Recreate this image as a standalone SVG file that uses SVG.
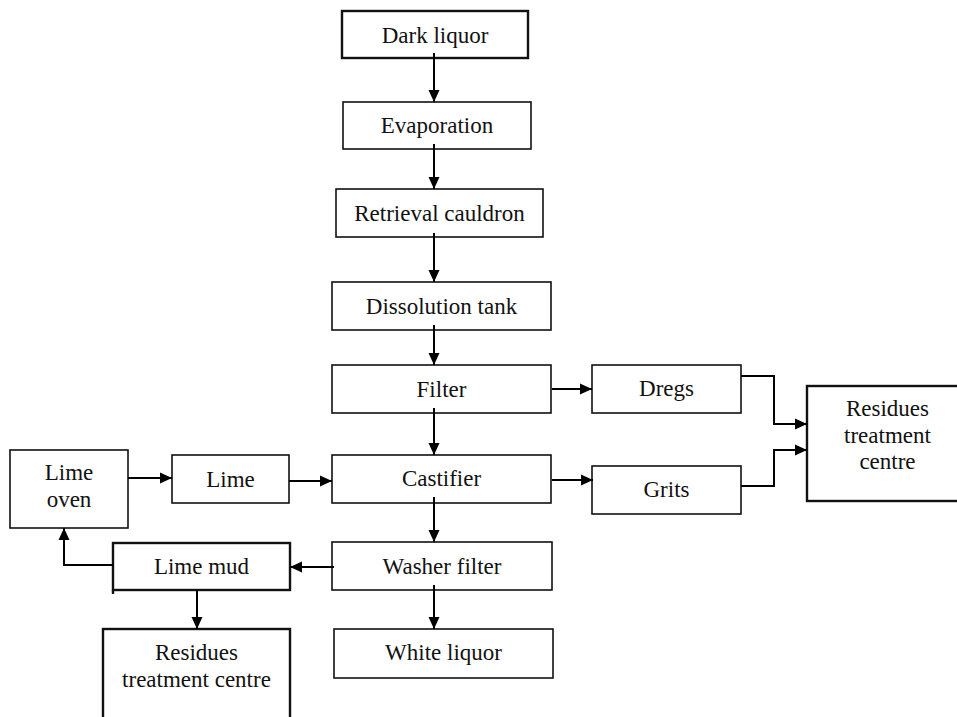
<svg xmlns="http://www.w3.org/2000/svg" width="957" height="717" viewBox="0 0 957 717">
<style>
.box{fill:#fff;stroke:#111;stroke-width:1.6}
.thick{stroke-width:2.4}
.lbl{font-family:"Liberation Serif","Times New Roman",serif;font-size:23px;fill:#111;text-anchor:middle}
.con{fill:none;stroke:#000;stroke-width:2}
</style>
<defs>
<marker id="ah" markerUnits="userSpaceOnUse" markerWidth="12" markerHeight="12" viewBox="0 0 12 12" refX="12" refY="6" orient="auto">
<path d="M0,0.5 L12,6 L0,11.5 z" fill="#000"/>
</marker>
</defs>
<rect width="957" height="717" fill="#fff"/>

<g id="dark-liquor"><rect class="box thick" x="342" y="11" width="186" height="47"/><text class="lbl" x="435" y="43">Dark liquor</text></g>
<g id="evaporation"><rect class="box" x="343" y="102" width="188" height="47"/><text class="lbl" x="437" y="133">Evaporation</text></g>
<g id="retrieval-cauldron"><rect class="box" x="336" y="189" width="207" height="48"/><text class="lbl" x="439.5" y="221">Retrieval cauldron</text></g>
<g id="dissolution-tank"><rect class="box" x="332" y="282" width="219" height="48"/><text class="lbl" x="441.5" y="314">Dissolution tank</text></g>
<g id="filter"><rect class="box" x="332" y="365" width="219" height="48"/><text class="lbl" x="441.5" y="397">Filter</text></g>
<g id="castifier"><rect class="box" x="332" y="455" width="219" height="48"/><text class="lbl" x="441.5" y="486">Castifier</text></g>
<g id="washer-filter"><rect class="box" x="332" y="542" width="220" height="48"/><text class="lbl" x="442" y="574">Washer filter</text></g>
<g id="white-liquor"><rect class="box" x="334" y="629" width="219" height="49"/><text class="lbl" x="443.5" y="660">White liquor</text></g>
<g id="dregs"><rect class="box" x="592" y="365" width="149" height="48"/><text class="lbl" x="666.5" y="396">Dregs</text></g>
<g id="grits"><rect class="box" x="592" y="466" width="149" height="48"/><text class="lbl" x="666.5" y="497">Grits</text></g>
<g id="residues-right"><rect class="box thick" x="807" y="386" width="160" height="115"/><text class="lbl" x="887.5" y="416">Residues</text><text class="lbl" x="887.5" y="443">treatment</text><text class="lbl" x="887.5" y="469">centre</text></g>
<g id="lime-oven"><rect class="box" x="10" y="450" width="118" height="78"/><text class="lbl" x="69" y="480">Lime</text><text class="lbl" x="69" y="507">oven</text></g>
<g id="lime"><rect class="box" x="172" y="455" width="117" height="48"/><text class="lbl" x="230.5" y="487">Lime</text></g>
<g id="lime-mud"><rect class="box thick" x="113" y="543" width="177" height="47"/><line x1="113" y1="590" x2="113" y2="594" stroke="#111" stroke-width="2.4"/><text class="lbl" x="201.5" y="574">Lime mud</text></g>
<g id="residues-left"><rect class="box thick" x="103" y="629" width="187" height="100"/><text class="lbl" x="196.5" y="660">Residues</text><text class="lbl" x="196.5" y="687">treatment centre</text></g>

<g id="connectors">
<path class="con" d="M434,53 V102" marker-end="url(#ah)"/>
<path class="con" d="M434,144 V189" marker-end="url(#ah)"/>
<path class="con" d="M434,233 V282" marker-end="url(#ah)"/>
<path class="con" d="M434,325 V365" marker-end="url(#ah)"/>
<path class="con" d="M434,408 V455" marker-end="url(#ah)"/>
<path class="con" d="M434,497 V542" marker-end="url(#ah)"/>
<path class="con" d="M434,585 V629" marker-end="url(#ah)"/>
<path class="con" d="M552,389 H592" marker-end="url(#ah)"/>
<path class="con" d="M552,480 H593" marker-end="url(#ah)"/>
<path class="con" d="M741,376 H774 V424 H807" marker-end="url(#ah)"/>
<path class="con" d="M741,486 H774 V450 H807" marker-end="url(#ah)"/>
<path class="con" d="M128,478 H172" marker-end="url(#ah)"/>
<path class="con" d="M289,481 H332" marker-end="url(#ah)"/>
<path class="con" d="M334,567 H290" marker-end="url(#ah)"/>
<path class="con" d="M113,565 H64 V528" marker-end="url(#ah)"/>
<path class="con" d="M197,590 V629" marker-end="url(#ah)"/>
</g>
</svg>
